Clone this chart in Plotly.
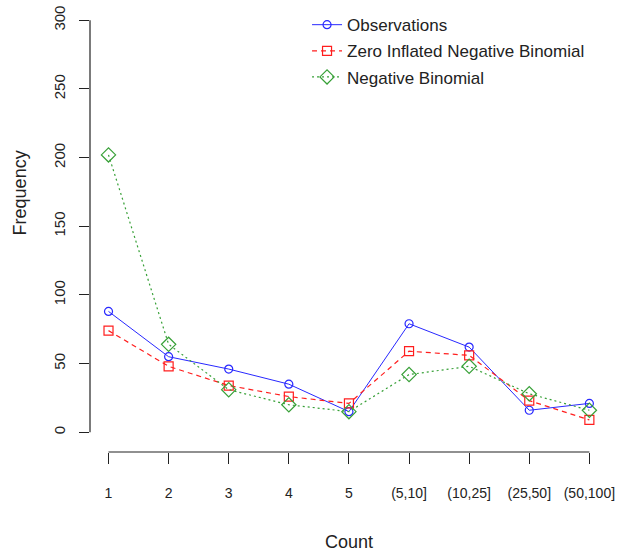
import plotly.graph_objects as go

categories = ["1", "2", "3", "4", "5", "(5,10]", "(10,25]", "(25,50]", "(50,100]"]
observations = [88, 55, 46, 35, 15, 79, 62, 16, 21]
zinb = [74, 48, 34, 26, 21, 59, 56, 23, 9]
nb = [202, 64, 31, 20, 15, 42, 48, 28, 16]
y_ticks = [0, 50, 100, 150, 200, 250, 300]

FONT = "Liberation Sans, Arial, sans-serif"
BLUE = "rgb(40,40,255)"
RED = "rgb(255,30,30)"
GREEN = "rgb(55,160,55)"

xs = list(range(len(categories)))

fig = go.Figure()
fig.add_trace(go.Scatter(
    x=xs, y=observations, name="Observations", mode="lines+markers", legendgroup="a",
    line=dict(color=BLUE, width=1, dash="solid"),
    marker=dict(symbol="circle-open", size=8, color=BLUE, line=dict(width=1.2)),
))
fig.add_trace(go.Scatter(
    x=xs, y=zinb, name="Zero Inflated Negative Binomial", mode="lines+markers", legendgroup="b",
    line=dict(color=RED, width=1.2, dash="5px,4px"),
    marker=dict(symbol="square-open", size=9, color=RED, line=dict(width=1.2)),
))
fig.add_trace(go.Scatter(
    x=xs, y=nb, name="Negative Binomial", mode="lines+markers", legendgroup="c",
    line=dict(color=GREEN, width=1.2, dash="2px,3px"),
    marker=dict(symbol="diamond-open", size=11, color=GREEN, line=dict(width=1.2)),
))

# R-style axis lines spanning only first to last tick
fig.add_shape(type="line", xref="paper", yref="y", x0=0, x1=0,
              y0=y_ticks[0], y1=y_ticks[-1], line=dict(color="#222", width=1.2))
fig.add_shape(type="line", xref="x", yref="paper", x0=xs[0], x1=xs[-1],
              y0=0, y1=0, line=dict(color="#222", width=1.2))

fig.add_annotation(text="Frequency", xref="paper", yref="y", x=-0.135, y=174,
                   xanchor="center", yanchor="middle", textangle=-90, showarrow=False,
                   font=dict(family=FONT, size=18, color="#222"))

fig.update_layout(
    width=629, height=555,
    margin=dict(l=90, r=21, t=4, b=103),
    paper_bgcolor="white", plot_bgcolor="white",
    font=dict(family=FONT, color="#222"),
    showlegend=True,
    legend=dict(x=0.419, y=0.993, xanchor="left", yanchor="top",
                bgcolor="rgba(0,0,0,0)", font=dict(family=FONT, size=17, color="#222"),
                tracegroupgap=1, itemwidth=30),
    xaxis=dict(range=[-0.308, 8.31], tickvals=xs, ticktext=categories, automargin=False,
               showgrid=False, zeroline=False, showline=False,
               ticks="outside", ticklen=11, tickwidth=1.2, tickcolor="#222",
               tickfont=dict(family=FONT, size=14, color="#222"),
               ticklabelstandoff=17,
               title=dict(text="Count", font=dict(family=FONT, size=18, color="#222"), standoff=35)),
    yaxis=dict(range=[-14.4, 311.9], tickvals=y_ticks, ticktext=[str(v) for v in y_ticks],
               automargin=False,
               showgrid=False, zeroline=False, showline=False,
               ticks="outside", ticklen=10, tickwidth=1.2, tickcolor="#222",
               tickangle=-90, tickfont=dict(family=FONT, size=15, color="#222"),
               ticklabelstandoff=8),
)

fig.write_html("out.html")
